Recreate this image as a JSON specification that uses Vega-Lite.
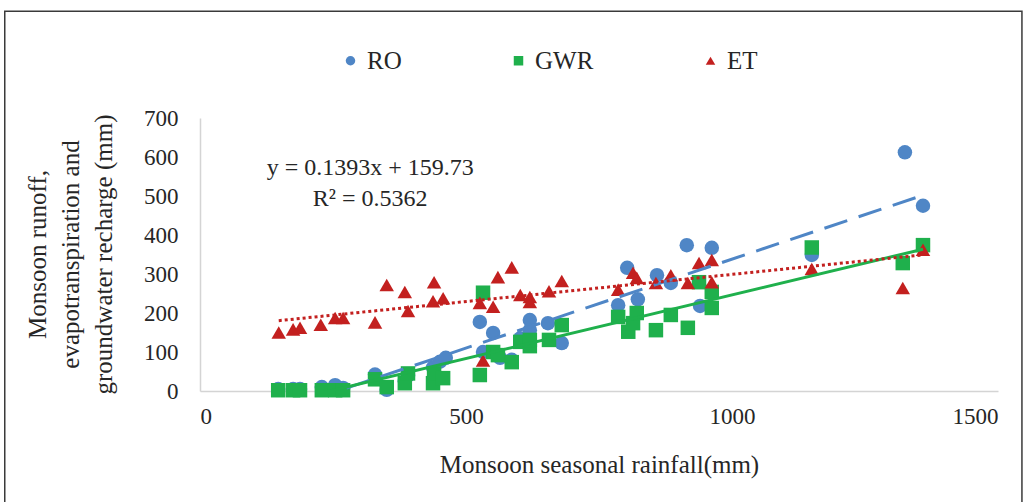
{
  "$schema": "https://vega.github.io/schema/vega-lite/v6.json",
  "autosize": {"type": "none"},
  "width": 798,
  "height": 273,
  "padding": {"left": 200, "top": 118, "right": 27, "bottom": 111},
  "background": "white",
  "config": {
    "view": {"stroke": null},
    "font": "Liberation Serif",
    "axis": {"labelFont": "Liberation Serif", "titleFont": "Liberation Serif", "labelColor": "#262626", "titleColor": "#262626", "titleFontWeight": "normal", "grid": false, "ticks": false, "domain": true, "domainColor": "#d4d4d4", "domainWidth": 1.5, "labelOverlap": false},
    "axisX": {"labelFontSize": 23, "labelPadding": 14, "titleFontSize": 25},
    "axisY": {"labelFontSize": 23, "labelPadding": 22, "titleFontSize": 25},
    "legend": {"labelFont": "Liberation Serif", "labelColor": "#262626"}
  },
  "datasets": {
    "obs": [
      {"series": "RO", "rainfall": 147, "value": 5},
      {"series": "RO", "rainfall": 175, "value": 5},
      {"series": "RO", "rainfall": 188, "value": 5},
      {"series": "RO", "rainfall": 229, "value": 10},
      {"series": "RO", "rainfall": 254, "value": 15},
      {"series": "RO", "rainfall": 269, "value": 8},
      {"series": "RO", "rainfall": 329, "value": 42},
      {"series": "RO", "rainfall": 351, "value": 3},
      {"series": "RO", "rainfall": 385, "value": 25},
      {"series": "RO", "rainfall": 391, "value": 40},
      {"series": "RO", "rainfall": 438, "value": 60},
      {"series": "RO", "rainfall": 451, "value": 75},
      {"series": "RO", "rainfall": 462, "value": 85},
      {"series": "RO", "rainfall": 526, "value": 177},
      {"series": "RO", "rainfall": 532, "value": 100},
      {"series": "RO", "rainfall": 551, "value": 149},
      {"series": "RO", "rainfall": 564, "value": 85},
      {"series": "RO", "rainfall": 586, "value": 80},
      {"series": "RO", "rainfall": 602, "value": 135},
      {"series": "RO", "rainfall": 620, "value": 182},
      {"series": "RO", "rainfall": 620, "value": 156},
      {"series": "RO", "rainfall": 654, "value": 174},
      {"series": "RO", "rainfall": 680, "value": 123},
      {"series": "RO", "rainfall": 786, "value": 220},
      {"series": "RO", "rainfall": 803, "value": 316},
      {"series": "RO", "rainfall": 823, "value": 235},
      {"series": "RO", "rainfall": 859, "value": 297},
      {"series": "RO", "rainfall": 885, "value": 277},
      {"series": "RO", "rainfall": 915, "value": 374},
      {"series": "RO", "rainfall": 940, "value": 218},
      {"series": "RO", "rainfall": 962, "value": 367},
      {"series": "RO", "rainfall": 1150, "value": 349},
      {"series": "RO", "rainfall": 1325, "value": 612},
      {"series": "RO", "rainfall": 1359, "value": 475},
      {"series": "GWR", "rainfall": 147, "value": 2},
      {"series": "GWR", "rainfall": 175, "value": 2},
      {"series": "GWR", "rainfall": 188, "value": 2},
      {"series": "GWR", "rainfall": 229, "value": 2},
      {"series": "GWR", "rainfall": 254, "value": 2},
      {"series": "GWR", "rainfall": 269, "value": 2},
      {"series": "GWR", "rainfall": 329, "value": 30},
      {"series": "GWR", "rainfall": 351, "value": 10},
      {"series": "GWR", "rainfall": 385, "value": 20},
      {"series": "GWR", "rainfall": 391, "value": 45},
      {"series": "GWR", "rainfall": 438, "value": 20},
      {"series": "GWR", "rainfall": 440, "value": 45},
      {"series": "GWR", "rainfall": 457, "value": 33},
      {"series": "GWR", "rainfall": 526, "value": 41},
      {"series": "GWR", "rainfall": 532, "value": 252},
      {"series": "GWR", "rainfall": 551, "value": 100},
      {"series": "GWR", "rainfall": 560, "value": 92},
      {"series": "GWR", "rainfall": 586, "value": 74},
      {"series": "GWR", "rainfall": 602, "value": 126},
      {"series": "GWR", "rainfall": 620, "value": 115},
      {"series": "GWR", "rainfall": 620, "value": 131},
      {"series": "GWR", "rainfall": 656, "value": 131},
      {"series": "GWR", "rainfall": 680, "value": 169},
      {"series": "GWR", "rainfall": 786, "value": 190},
      {"series": "GWR", "rainfall": 805, "value": 152},
      {"series": "GWR", "rainfall": 814, "value": 174},
      {"series": "GWR", "rainfall": 821, "value": 200},
      {"series": "GWR", "rainfall": 857, "value": 156},
      {"series": "GWR", "rainfall": 885, "value": 195},
      {"series": "GWR", "rainfall": 917, "value": 162},
      {"series": "GWR", "rainfall": 938, "value": 279},
      {"series": "GWR", "rainfall": 962, "value": 213},
      {"series": "GWR", "rainfall": 962, "value": 254},
      {"series": "GWR", "rainfall": 1150, "value": 368},
      {"series": "GWR", "rainfall": 1321, "value": 328},
      {"series": "GWR", "rainfall": 1359, "value": 374},
      {"series": "ET", "rainfall": 148, "value": 150},
      {"series": "ET", "rainfall": 175, "value": 158},
      {"series": "ET", "rainfall": 188, "value": 162},
      {"series": "ET", "rainfall": 227, "value": 170},
      {"series": "ET", "rainfall": 254, "value": 187},
      {"series": "ET", "rainfall": 269, "value": 187},
      {"series": "ET", "rainfall": 329, "value": 176},
      {"series": "ET", "rainfall": 351, "value": 272},
      {"series": "ET", "rainfall": 385, "value": 254},
      {"series": "ET", "rainfall": 391, "value": 205},
      {"series": "ET", "rainfall": 438, "value": 230},
      {"series": "ET", "rainfall": 440, "value": 279},
      {"series": "ET", "rainfall": 457, "value": 238},
      {"series": "ET", "rainfall": 526, "value": 226},
      {"series": "ET", "rainfall": 532, "value": 78},
      {"series": "ET", "rainfall": 551, "value": 216},
      {"series": "ET", "rainfall": 560, "value": 292},
      {"series": "ET", "rainfall": 586, "value": 317},
      {"series": "ET", "rainfall": 602, "value": 246},
      {"series": "ET", "rainfall": 620, "value": 241},
      {"series": "ET", "rainfall": 620, "value": 228},
      {"series": "ET", "rainfall": 656, "value": 256},
      {"series": "ET", "rainfall": 680, "value": 282},
      {"series": "ET", "rainfall": 786, "value": 260},
      {"series": "ET", "rainfall": 814, "value": 303},
      {"series": "ET", "rainfall": 821, "value": 290},
      {"series": "ET", "rainfall": 857, "value": 277},
      {"series": "ET", "rainfall": 885, "value": 297},
      {"series": "ET", "rainfall": 917, "value": 277},
      {"series": "ET", "rainfall": 938, "value": 328},
      {"series": "ET", "rainfall": 962, "value": 336},
      {"series": "ET", "rainfall": 962, "value": 279},
      {"series": "ET", "rainfall": 1150, "value": 313},
      {"series": "ET", "rainfall": 1321, "value": 264},
      {"series": "ET", "rainfall": 1359, "value": 362}
    ],
    "etFit": [
      {"rainfall": 148, "value": 180.35},
      {"rainfall": 1359, "value": 349.04}
    ]
  },
  "encoding": {
    "x": {
      "field": "rainfall", "type": "quantitative",
      "scale": {"domain": [0, 1500], "nice": false},
      "axis": {"values": [0, 500, 1000, 1500], "format": "d", "title": "Monsoon seasonal rainfall(mm)", "titleX": 399, "titleY": 81, "titleBaseline": "alphabetic", "titleAnchor": "middle"}
    },
    "y": {
      "field": "value", "type": "quantitative",
      "scale": {"domain": [0, 700], "nice": false},
      "axis": {"values": [0, 100, 200, 300, 400, 500, 600, 700], "format": "d", "title": ["Monsoon runoff,", "evapotranspiration and", "groundwater recharge (mm)"], "titleLineHeight": 33, "titleAngle": -90, "titleX": -155, "titleY": 136, "titleBaseline": "alphabetic", "titleAlign": "center", "titleAnchor": "middle"}
    }
  },
  "layer": [
    {
      "data": {"name": "obs"},
      "mark": {"type": "point", "filled": true, "opacity": 1, "size": 210},
      "encoding": {
        "color": {
          "field": "series", "type": "nominal",
          "scale": {"domain": ["RO", "GWR", "ET"], "range": ["#4f86c6", "#1fb04c", "#c3201f"]},
          "legend": {"title": null, "orient": "none", "direction": "horizontal", "legendX": 138, "legendY": -70, "labelFont": "Liberation Serif", "labelFontSize": 25, "symbolSize": 90, "columnPadding": 104, "labelOffset": 4}
        },
        "shape": {
          "field": "series", "type": "nominal",
          "scale": {"domain": ["RO", "GWR", "ET"], "range": ["circle", "square", "triangle-up"]},
          "legend": {"title": null, "orient": "none", "direction": "horizontal", "legendX": 138, "legendY": -70, "labelFont": "Liberation Serif", "labelFontSize": 25, "symbolSize": 90, "columnPadding": 104, "labelOffset": 4}
        }
      }
    },
    {
      "data": {"name": "obs"},
      "transform": [
        {"filter": "datum.series === 'RO'"},
        {"regression": "value", "on": "rainfall"}
      ],
      "mark": {"type": "line", "color": "#4f86c6", "strokeWidth": 3, "strokeDash": [24, 12], "clip": true}
    },
    {
      "data": {"name": "obs"},
      "transform": [
        {"filter": "datum.series === 'GWR'"},
        {"regression": "value", "on": "rainfall"}
      ],
      "mark": {"type": "line", "color": "#1fb04c", "strokeWidth": 3, "clip": true}
    },
    {
      "data": {"name": "etFit"},
      "mark": {"type": "line", "color": "#c3201f", "strokeWidth": 3, "strokeDash": [3, 3], "clip": true}
    },
    {
      "data": {"values": [{}]},
      "transform": [
        {"calculate": "320", "as": "rainfall"},
        {"calculate": "554", "as": "value"}
      ],
      "mark": {"type": "text", "text": ["y = 0.1393x + 159.73", "R² = 0.5362"], "font": "Liberation Serif", "fontSize": 24, "lineHeight": 31, "align": "center", "baseline": "alphabetic", "color": "#262626"}
    },
    {
      "data": {"values": [{}]},
      "transform": [
        {"calculate": "-367", "as": "rainfall"},
        {"calculate": "974", "as": "value"}
      ],
      "mark": {"type": "rect", "filled": false, "stroke": "#3a3a3a", "strokeWidth": 1.5, "clip": false},
      "encoding": {
        "x2": {"datum": 1545},
        "y2": {"datum": -400}
      }
    }
  ]
}
